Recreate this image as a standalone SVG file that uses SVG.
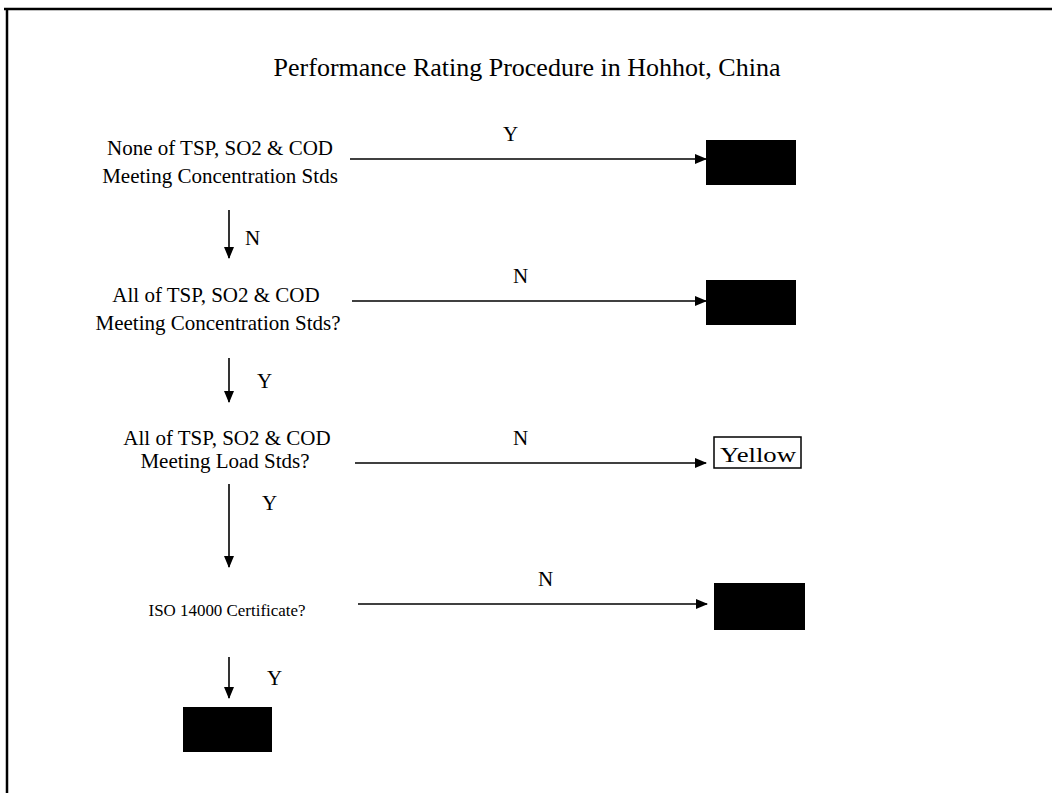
<svg xmlns="http://www.w3.org/2000/svg" width="1052" height="793" viewBox="0 0 1052 793">
<style>
.t{font-family:"Liberation Serif","Times New Roman",serif;fill:#000}
.title{font-size:26px}
.node{font-size:21px}
.lbl{font-size:21px}
.small{font-size:17px}
.conn{stroke:#000;stroke-width:1.6;fill:none}
.blk{fill:#000}
</style>
<defs>
<marker id="ah" markerWidth="12" markerHeight="10" refX="11" refY="5" orient="auto" markerUnits="userSpaceOnUse">
<path d="M0,0 L12,5 L0,10 Z" fill="#000"/>
</marker>
</defs>
<rect width="1052" height="793" fill="#fff"/>
<g id="frame">
<line x1="4" y1="9" x2="1052" y2="9" stroke="#000" stroke-width="2.5"/>
<line x1="7" y1="8" x2="7" y2="793" stroke="#000" stroke-width="2.5"/>
</g>
<text class="t title" x="527" y="76" text-anchor="middle">Performance Rating Procedure in Hohhot, China</text>
<g id="node1">
<text class="t node" x="220" y="155" text-anchor="middle">None of TSP, SO2 &amp; COD</text>
<text class="t node" x="220" y="183" text-anchor="middle">Meeting Concentration Stds</text>
</g>
<g id="node2">
<text class="t node" x="216" y="302" text-anchor="middle">All of TSP, SO2 &amp; COD</text>
<text class="t node" x="218" y="330" text-anchor="middle">Meeting Concentration Stds?</text>
</g>
<g id="node3">
<text class="t node" x="227" y="445" text-anchor="middle">All of TSP, SO2 &amp; COD</text>
<text class="t node" x="225" y="468" text-anchor="middle">Meeting Load Stds?</text>
</g>
<g id="node4">
<text class="t small" x="227" y="616" text-anchor="middle" textLength="157" lengthAdjust="spacingAndGlyphs">ISO 14000 Certificate?</text>
</g>
<g id="box1"><rect class="blk" x="706" y="140" width="90" height="45"/></g>
<g id="box2"><rect class="blk" x="706" y="280" width="90" height="45"/></g>
<g id="box3">
<rect x="714" y="437" width="87" height="31" fill="#fff" stroke="#000" stroke-width="1.5"/>
<text class="t" x="758" y="462" text-anchor="middle" font-size="20" textLength="76" lengthAdjust="spacingAndGlyphs">Yellow</text>
</g>
<g id="box4"><rect class="blk" x="714" y="583" width="91" height="47"/></g>
<g id="box5"><rect class="blk" x="183" y="707" width="89" height="45"/></g>
<g id="connectors">
<line class="conn" x1="350" y1="159" x2="706" y2="159" marker-end="url(#ah)"/>
<line class="conn" x1="352" y1="301" x2="706" y2="301" marker-end="url(#ah)"/>
<line class="conn" x1="355" y1="463" x2="706" y2="463" marker-end="url(#ah)"/>
<line class="conn" x1="358" y1="604" x2="707" y2="604" marker-end="url(#ah)"/>
<line class="conn" x1="229" y1="210" x2="229" y2="258" marker-end="url(#ah)"/>
<line class="conn" x1="229" y1="358" x2="229" y2="402" marker-end="url(#ah)"/>
<line class="conn" x1="229" y1="484" x2="229" y2="567" marker-end="url(#ah)"/>
<line class="conn" x1="229" y1="657" x2="229" y2="698" marker-end="url(#ah)"/>
<text class="t lbl" x="503" y="141">Y</text>
<text class="t lbl" x="513" y="283">N</text>
<text class="t lbl" x="513" y="445">N</text>
<text class="t lbl" x="538" y="586">N</text>
<text class="t lbl" x="245" y="245">N</text>
<text class="t lbl" x="257" y="388">Y</text>
<text class="t lbl" x="262" y="510">Y</text>
<text class="t lbl" x="267" y="685">Y</text>
</g>
</svg>
